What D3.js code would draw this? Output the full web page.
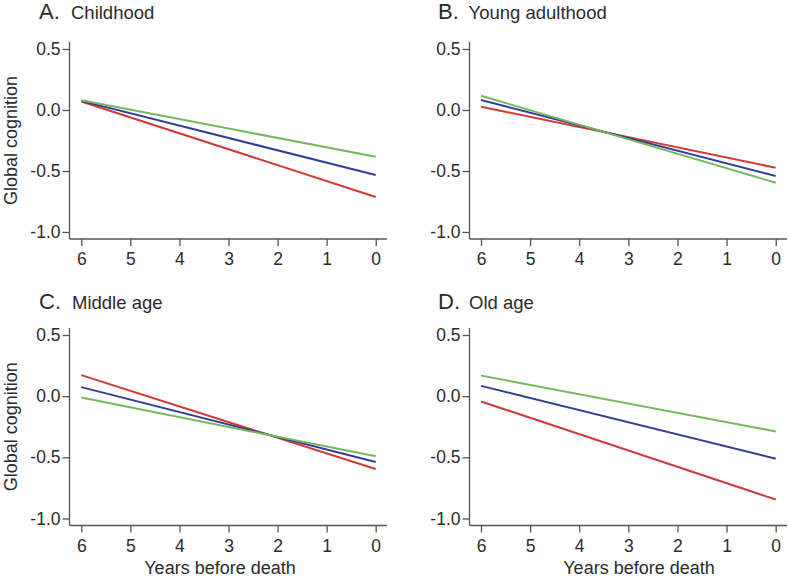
<!DOCTYPE html>
<html>
<head>
<meta charset="utf-8">
<script src="https://cdn.jsdelivr.net/npm/d3@7"></script>
<style>
  html, body { margin: 0; padding: 0; background: #ffffff; }
  svg { display: block; }
  text { font-family: "Liberation Sans", Arial, sans-serif; fill: #2b2b2b; }
</style>
</head>
<body>
<svg id="chart" width="789" height="578"></svg>
<script>
// ---- Data (years before death: 6 -> 0) ----
const years = [6, 0];
const xTicks = [6, 5, 4, 3, 2, 1, 0];
const yTicks = [0.5, 0.0, -0.5, -1.0];
const panelLetters = ["A.", "B.", "C.", "D."];
const panelTitles = ["Childhood", "Young adulthood", "Middle age", "Old age"];
const seriesNames = ["red", "blue", "green"];
const seriesColors = ["#d03a35", "#343c98", "#72b85f"];

// values at year 6 and year 0 for each series, per panel
const childhoodRed   = [0.07, -0.713];
const childhoodBlue  = [0.075, -0.533];
const childhoodGreen = [0.08, -0.383];

const youngRed   = [0.027, -0.473];
const youngBlue  = [0.082, -0.541];
const youngGreen = [0.117, -0.596];

const middleRed   = [0.172, -0.596];
const middleBlue  = [0.074, -0.538];
const middleGreen = [-0.011, -0.492];

const oldRed   = [-0.043, -0.845];
const oldBlue  = [0.084, -0.511];
const oldGreen = [0.168, -0.288];

const panelSeries = [
  [childhoodRed, childhoodBlue, childhoodGreen],
  [youngRed, youngBlue, youngGreen],
  [middleRed, middleBlue, middleGreen],
  [oldRed, oldBlue, oldGreen]
];

// ---- Layout ----
const svg = d3.select("#chart");
const layout = [
  { axisX: 69.5,  x6: 81.3,  x0: 375.7, xEnd: 387, yTop: 49,  yBot: 232,   letterX: 39,  titleX: 71,    titleY: 19,    ylabel: true,  xlabel: false },
  { axisX: 469.5, x6: 481,   x0: 775.7, xEnd: 787, yTop: 49,  yBot: 232,   letterX: 438, titleX: 468.5, titleY: 19,    ylabel: false, xlabel: false },
  { axisX: 69.5,  x6: 81.3,  x0: 375.7, xEnd: 387, yTop: 335, yBot: 518.5, letterX: 39,  titleX: 72,    titleY: 308.5, ylabel: true,  xlabel: true, xlabelX: 220 },
  { axisX: 469.5, x6: 481,   x0: 775.7, xEnd: 787, yTop: 335, yBot: 518.5, letterX: 438, titleX: 469,   titleY: 309,   ylabel: false, xlabel: true, xlabelX: 639 }
];

const axisColor = "#555555";
const tickFont = "17.5px";

layout.forEach((L, i) => {
  const g = svg.append("g");
  const x = d3.scaleLinear().domain([6, 0]).range([L.x6, L.x0]);
  const y = d3.scaleLinear().domain([-1, 0.5]).range([L.yBot, L.yTop]);
  const axisBottomY = L.yBot + 7;

  // axis lines
  g.append("line")
    .attr("x1", L.axisX).attr("x2", L.axisX)
    .attr("y1", L.yTop - 7).attr("y2", axisBottomY)
    .attr("stroke", axisColor).attr("stroke-width", 1.3);
  g.append("line")
    .attr("x1", L.axisX).attr("x2", L.xEnd)
    .attr("y1", axisBottomY).attr("y2", axisBottomY)
    .attr("stroke", axisColor).attr("stroke-width", 1.3);

  // y axis
  const yAx = g.append("g")
    .attr("transform", `translate(${L.axisX},0)`)
    .call(d3.axisLeft(y).tickValues(yTicks).tickSize(7).tickPadding(2));
  yAx.select(".domain").remove();
  yAx.selectAll(".tick line").attr("stroke", axisColor).attr("stroke-width", 1.3);
  yAx.selectAll(".tick text")
    .style("font-family", '"Liberation Sans", Arial, sans-serif')
    .style("font-size", tickFont).attr("fill", "#2b2b2b")
    .text(d => d3.format(".1f")(d).replace("\u2212", "-"));

  // x axis
  const xAx = g.append("g")
    .attr("transform", `translate(0,${axisBottomY})`)
    .call(d3.axisBottom(x).tickValues(xTicks).tickFormat(d3.format("d")).tickSize(7).tickPadding(7));
  xAx.select(".domain").remove();
  xAx.selectAll(".tick line").attr("stroke", axisColor).attr("stroke-width", 1.3);
  xAx.selectAll(".tick text")
    .style("font-family", '"Liberation Sans", Arial, sans-serif')
    .style("font-size", tickFont).attr("fill", "#2b2b2b");

  // lines
  const line = d3.line().x(d => x(d[0])).y(d => y(d[1]));
  panelSeries[i].forEach((vals, s) => {
    const pts = years.map((yr, k) => [yr, vals[k]]);
    g.append("path")
      .datum(pts)
      .attr("d", line)
      .attr("fill", "none")
      .attr("stroke", seriesColors[s])
      .attr("stroke-width", 2);
  });

  // title
  g.append("text")
    .attr("x", L.letterX).attr("y", L.titleY)
    .style("font-size", "22px")
    .text(panelLetters[i]);
  g.append("text")
    .attr("x", L.titleX).attr("y", L.titleY)
    .style("font-size", "18.5px")
    .text(panelTitles[i]);

  if (L.ylabel) {
    const cy = (L.yTop + L.yBot) / 2;
    g.append("text")
      .attr("transform", `translate(17,${cy}) rotate(-90)`)
      .attr("text-anchor", "middle")
      .style("font-size", "18px")
      .text("Global cognition");
  }
  if (L.xlabel) {
    g.append("text")
      .attr("x", L.xlabelX).attr("y", 574)
      .attr("text-anchor", "middle")
      .style("font-size", "18px")
      .text("Years before death");
  }
});
</script>
</body>
</html>
